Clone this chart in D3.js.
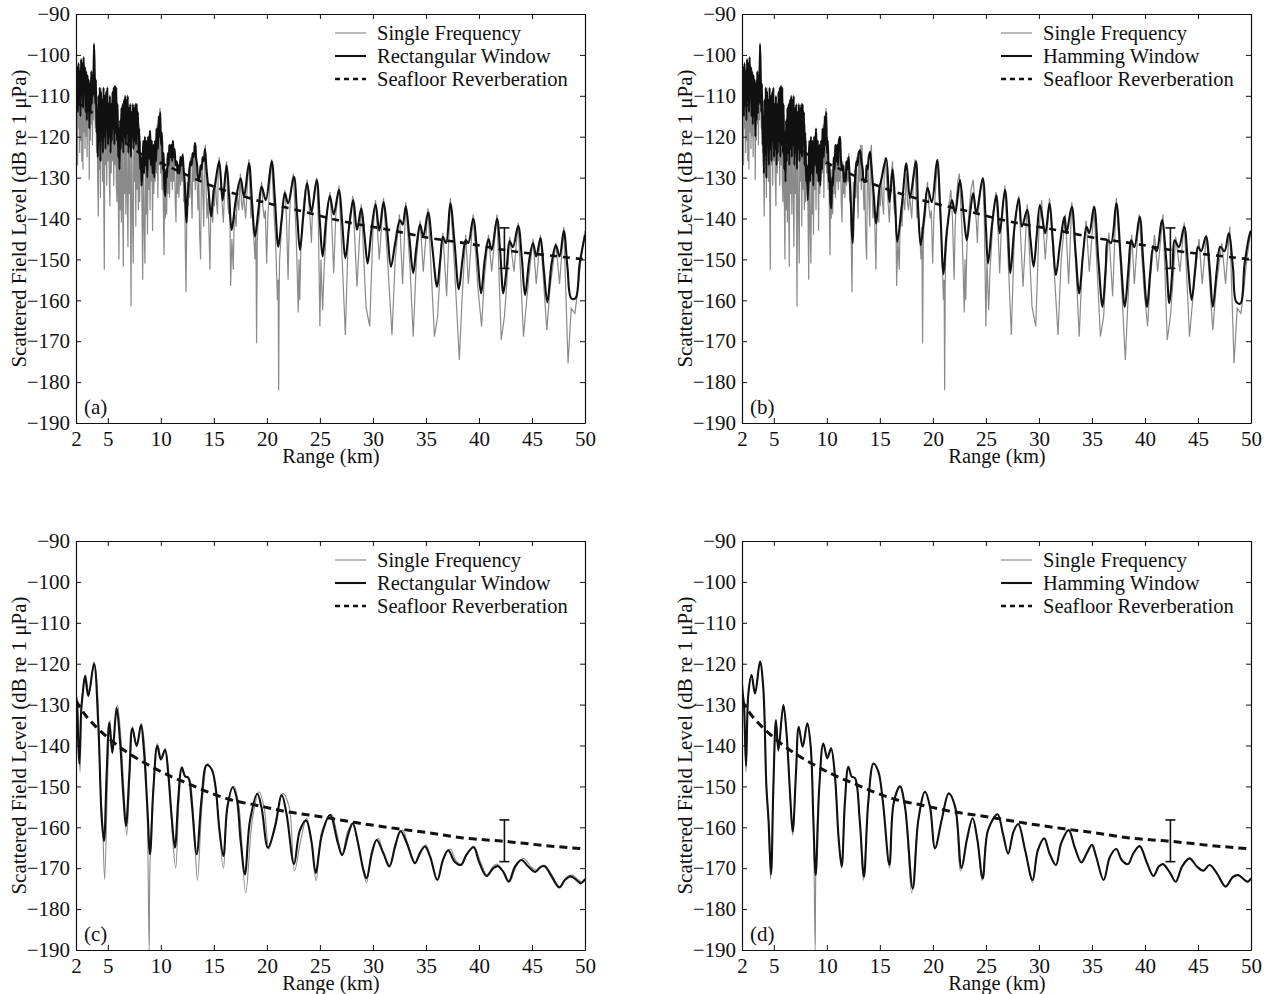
<!DOCTYPE html>
<html>
<head>
<meta charset="utf-8">
<script src="https://cdn.jsdelivr.net/npm/d3@7"></script>
<style>
  body { margin: 0; background: #fff; }
  svg { display: block; }
</style>
</head>
<body>
<div id="chart"></div>
<script>
// Scattered field vs range, four panels (a)-(d)

const width = 1273;
const height = 994;
const plotW = 509, plotH = 409;
const font = "'Liberation Serif', 'DejaVu Serif', serif";

// tick values / labels
const xTicks = [2, 5, 10, 15, 20, 25, 30, 35, 40, 45, 50];
const yTicks = [-90, -100, -110, -120, -130, -140, -150, -160, -170, -180, -190];
const panelNames = ["(a)", "(b)", "(c)", "(d)"];
const legendRect = ["Single Frequency", "Rectangular Window", "Seafloor Reverberation"];
const legendHamm = ["Single Frequency", "Hamming Window", "Seafloor Reverberation"];

// top row: single frequency (grey spikes), same in (a) and (b)
const singleTop = [
  [2.0,-110],[2.05,-122],[2.1,-104],[2.15,-127],[2.2,-105],[2.25,-118],[2.3,-103],[2.35,-124],[2.4,-104],[2.45,-121],
  [2.5,-102],[2.55,-126],[2.6,-104],[2.65,-128],[2.7,-101],[2.75,-119],[2.8,-104],[2.85,-123],[2.9,-103],[2.95,-120],
  [3.0,-106],[3.05,-125],[3.1,-105],[3.15,-118],[3.2,-107],[3.25,-130.5],[3.3,-108],[3.35,-121],[3.4,-106],[3.45,-117],
  [3.5,-105],[3.55,-122],[3.6,-104],[3.65,-116],[3.7,-97],[3.76,-108],[3.82,-118],[3.88,-110],[3.94,-124],[4.0,-118],
  [4.05,-131],[4.1,-139.5],[4.15,-112],[4.2,-128],[4.25,-110],[4.3,-135],[4.35,-108],[4.4,-126],[4.45,-111],[4.5,-131],
  [4.55,-110],[4.6,-129],[4.67,-152.5],[4.72,-112],[4.78,-127],[4.84,-110],[4.9,-132],[4.96,-109],[5.02,-126],[5.08,-113],
  [5.14,-130],[5.2,-137],[5.26,-112],[5.32,-129],[5.38,-113],[5.44,-126],[5.5,-110],[5.56,-132],[5.62,-109],[5.68,-127],
  [5.74,-108],[5.8,-131],[5.86,-136],[5.92,-113],[5.98,-133],[6.05,-150],[6.1,-119],[6.16,-138],[6.22,-117],[6.28,-141],
  [6.34,-115],[6.4,-135],[6.46,-151.8],[6.52,-116],[6.58,-134],[6.64,-113],[6.7,-139],[6.76,-112],[6.82,-131],[6.9,-147],
  [6.96,-115],[7.02,-134],[7.08,-114],[7.14,-141],[7.19,-161.5],[7.25,-117],[7.32,-137],[7.4,-151],[7.46,-115],[7.52,-131],
  [7.58,-114],[7.64,-142],[7.7,-112],[7.76,-133],[7.82,-114],[7.88,-138],[7.94,-117],[8.0,-136],[8.06,-121],[8.12,-132],
  [8.18,-128],[8.24,-142],[8.29,-155],[8.35,-124],[8.42,-141],[8.5,-151],[8.56,-122],[8.62,-139],[8.68,-121],[8.74,-144],
  [8.8,-120],[8.86,-133],[8.92,-119],[8.98,-138],[9.04,-119],[9.1,-131],[9.16,-121],[9.22,-143],[9.28,-122],[9.34,-134],
  [9.4,-121],[9.46,-131],[9.52,-118],[9.6,-129],[9.66,-117],[9.72,-135],[9.8,-115],[9.86,-127],[9.92,-113],[9.98,-129],
  [10.05,-120],[10.12,-133],[10.18,-126],[10.24,-138],[10.3,-149],[10.36,-131],[10.42,-140],[10.48,-128],[10.55,-139],[10.62,-125],
  [10.68,-134],[10.75,-122],[10.82,-135],[10.9,-123],[10.96,-131],[11.02,-122],[11.08,-133],[11.14,-121],[11.2,-131],[11.28,-123],
  [11.36,-136],[11.43,-141],[11.5,-126],[11.56,-134],[11.62,-127],[11.7,-135],[11.78,-126],[11.86,-132],[11.94,-125],[12.0,-131],
  [12.08,-124],[12.16,-136],[12.24,-130],[12.3,-145],[12.37,-158],[12.44,-142],[12.5,-131],[12.58,-137],[12.65,-128],[12.72,-135],
  [12.8,-125],[12.88,-134],[12.95,-140],[13.02,-124],[13.1,-131],[13.18,-122],[13.25,-133],[13.32,-122],[13.4,-129],[13.5,-138],
  [13.58,-130],[13.66,-144],[13.75,-150],[13.82,-131],[13.9,-127],[13.98,-136],[14.05,-142],[14.12,-124],[14.2,-122],[14.28,-134],
  [14.35,-140],[14.45,-135],[14.55,-144],[14.63,-152.5],[14.7,-140],[14.8,-138],[14.9,-141],[14.95,-133],[15.05,-137],[15.15,-130],
  [15.25,-136],[15.35,-139],[15.42,-128],[15.5,-125],[15.7,-133],[15.9,-141],[16.05,-130],[16.2,-126],[16.3,-136],[16.4,-139],
  [16.5,-134],[16.58,-156.5],[16.7,-145],[16.83,-152.5],[16.92,-140],[17.0,-139],[17.1,-142],[17.2,-134],[17.35,-138],[17.5,-129],
  [17.6,-136],[17.7,-138],[17.8,-134],[17.9,-137],[18.0,-140],[18.15,-132],[18.31,-125.5],[18.42,-134],[18.5,-140],[18.6,-136],
  [18.7,-143],[18.8,-146],[18.88,-150],[18.96,-142],[19.03,-170.5],[19.1,-145],[19.15,-142],[19.3,-139],[19.4,-134],[19.5,-131],
  [19.62,-137],[19.75,-140],[19.85,-138],[19.98,-151],[20.1,-139],[20.2,-135],[20.3,-131],[20.45,-125.5],[20.58,-133],[20.7,-140],
  [20.8,-144],[20.9,-152],[21.0,-160],[21.06,-155],[21.11,-182],[21.16,-158],[21.2,-150],[21.3,-146],[21.4,-141],[21.55,-136],
  [21.7,-133],[21.85,-140],[22.0,-155],[22.1,-142],[22.2,-136],[22.35,-131],[22.5,-129],[22.62,-136],[22.75,-143],[22.85,-152],
  [22.96,-163],[23.03,-150],[23.1,-160],[23.2,-148],[23.3,-142],[23.45,-137],[23.6,-133],[23.8,-130.5],[23.95,-136],[24.1,-141],
  [24.2,-146],[24.3,-138],[24.5,-133],[24.7,-130],[24.85,-140],[25.0,-166.4],[25.1,-150],[25.26,-162.4],[25.4,-152],[25.5,-148],
  [25.7,-138],[25.95,-133.5],[26.1,-140],[26.3,-153.4],[26.5,-139],[26.8,-132],[27.1,-150],[27.4,-168.5],[27.7,-142],[28.1,-134.5],
  [28.5,-156.7],[28.9,-136.5],[29.35,-161.6],[29.7,-166.4],[30.0,-143],[30.25,-135.5],[30.6,-150],[31.0,-135],[31.4,-151],[31.8,-168.5],
  [32.1,-150],[32.5,-139],[32.8,-156],[33.1,-136],[33.5,-152],[33.8,-168.9],[34.1,-150],[34.45,-140.5],[34.75,-153],[35.2,-137.5],
  [35.5,-153],[35.8,-168.9],[36.1,-164],[36.4,-150],[36.6,-143.5],[36.95,-159],[37.3,-135],[37.7,-152],[38.15,-174.6],[38.4,-160],
  [38.75,-144],[39.0,-156],[39.45,-139],[39.9,-157],[40.25,-166.4],[40.5,-155],[40.9,-144],[41.2,-153],[41.7,-139],[42.1,-169.7],
  [42.4,-164],[42.65,-155],[42.9,-144.5],[43.3,-153],[43.7,-141],[44.2,-168.9],[44.5,-160],[44.8,-152],[45.1,-145],[45.4,-156],
  [45.8,-144],[46.4,-167.3],[46.7,-157],[47.25,-146],[47.6,-156],[48.0,-142],[48.4,-175.4],[48.7,-162],[49.05,-163.2],[49.3,-158],
  [49.6,-150],[50,-143]
];

// (a) rectangular window
const rectTop = [
  [2.0,-106],[2.06,-112],[2.12,-103],[2.18,-114],[2.24,-102],[2.3,-111],[2.36,-104],[2.42,-115],[2.48,-101],[2.54,-110],
  [2.6,-102],[2.66,-113],[2.72,-100.5],[2.78,-109],[2.84,-103],[2.9,-114],[2.96,-104],[3.02,-116],[3.08,-105],[3.14,-113],
  [3.2,-106],[3.26,-118],[3.32,-107],[3.38,-114],[3.44,-104],[3.5,-112],[3.56,-105],[3.62,-110],[3.7,-97.5],[3.76,-104],
  [3.82,-112],[3.88,-106],[3.94,-119],[4.0,-114],[4.06,-125],[4.12,-110],[4.18,-121],[4.24,-108],[4.3,-126],[4.36,-109],
  [4.42,-119],[4.48,-111],[4.54,-124],[4.6,-108],[4.66,-120],[4.72,-110],[4.78,-123],[4.84,-109],[4.9,-118],[4.96,-108],
  [5.02,-122],[5.08,-112],[5.14,-120],[5.2,-110],[5.26,-124],[5.32,-112],[5.38,-121],[5.44,-109],[5.5,-118],[5.56,-108],
  [5.62,-122],[5.68,-107.5],[5.74,-119],[5.8,-108],[5.86,-121],[5.92,-112],[5.98,-125],[6.04,-118],[6.1,-128],[6.16,-116],
  [6.22,-123],[6.28,-113],[6.34,-121],[6.4,-112],[6.46,-124],[6.52,-111],[6.58,-120],[6.64,-110],[6.7,-122],[6.76,-111],
  [6.82,-119],[6.88,-110],[6.94,-124],[7.0,-113],[7.06,-121],[7.12,-112],[7.18,-125],[7.24,-114],[7.3,-120],[7.36,-112],
  [7.42,-123],[7.48,-113],[7.54,-121],[7.6,-112],[7.66,-122],[7.72,-112],[7.78,-118],[7.84,-114],[7.9,-124],[7.96,-118],
  [8.05,-128],[8.12,-125],[8.2,-132],[8.28,-126],[8.35,-121],[8.42,-129],[8.5,-120],[8.58,-127],[8.65,-121],[8.72,-130],
  [8.8,-120],[8.88,-125],[8.98,-118.5],[9.06,-127],[9.14,-121],[9.22,-129],[9.3,-122],[9.38,-130],[9.46,-121],[9.55,-126],
  [9.63,-118],[9.72,-123],[9.8,-115],[9.88,-120],[9.94,-114],[10.02,-122],[10.1,-119],[10.18,-128],[10.26,-124],[10.34,-133],
  [10.42,-134.5],[10.5,-128],[10.58,-130],[10.66,-124],[10.74,-127],[10.82,-122],[10.9,-125],[10.98,-122],[11.06,-126],[11.14,-121],
  [11.22,-125],[11.3,-123],[11.4,-127],[11.5,-126],[11.6,-129],[11.68,-127],[11.76,-129],[11.85,-125],[11.95,-127],[12.05,-124.5],
  [12.15,-128],[12.25,-131],[12.35,-138],[12.43,-141],[12.52,-135],[12.6,-132],[12.7,-128],[12.8,-126],[12.9,-127],[13.0,-124],
  [13.1,-125],[13.22,-121.5],[13.32,-125],[13.42,-127],[13.52,-130],[13.63,-130.5],[13.75,-127],[13.85,-128],[13.95,-125],[14.05,-126],
  [14.16,-123],[14.28,-127],[14.38,-130],[14.5,-133],[14.62,-137],[14.75,-139.5],[14.88,-136],[15.0,-133],[15.1,-132],[15.5,-126],
  [15.83,-135.5],[16.2,-127],[16.45,-135],[16.68,-142.8],[17.1,-135],[17.53,-130.2],[17.84,-134.7],[18.31,-126.5],[18.6,-136],[18.88,-144.4],
  [19.2,-138],[19.5,-132.2],[19.9,-135.5],[20.45,-126],[20.75,-135],[21.08,-146.9],[21.4,-140],[21.7,-133.8],[22.0,-136.3],[22.55,-129.8],
  [22.85,-139],[23.12,-147.7],[23.45,-139],[23.8,-131.4],[24.2,-138.3],[24.7,-130.6],[25.0,-141],[25.26,-149.3],[25.6,-140],[25.95,-134.5],
  [26.3,-139],[26.8,-133],[27.1,-141],[27.4,-149.7],[27.8,-141],[28.15,-135.5],[28.5,-142.8],[28.9,-137.5],[29.2,-144],[29.5,-151],
  [29.85,-143],[30.25,-136.5],[30.6,-143],[31.0,-136],[31.35,-143],[31.7,-151.8],[32.1,-146],[32.55,-140.4],[32.8,-141.5],[33.1,-137],
  [33.45,-145],[33.8,-153.4],[34.1,-147],[34.45,-141.5],[34.75,-144.4],[35.2,-138.5],[35.6,-147],[36.05,-156.7],[36.35,-150],[36.6,-144.5],
  [36.9,-146],[37.3,-136.3],[37.7,-146],[38.1,-157.3],[38.45,-150],[38.75,-145.3],[39.0,-146],[39.45,-140],[39.85,-149],[40.2,-158.3],
  [40.55,-150],[40.9,-145],[41.2,-147.7],[41.7,-140],[42.0,-148],[42.3,-158.3],[42.65,-151],[42.9,-145.5],[43.2,-147],[43.7,-141.8],
  [44.05,-150],[44.35,-158.7],[44.75,-150],[45.1,-146],[45.4,-149.3],[45.8,-144.8],[46.1,-152],[46.45,-160.5],[46.85,-151],[47.25,-146.5],
  [47.6,-149.3],[48.0,-143],[48.35,-152],[48.7,-159.5],[49.1,-159.5],[49.5,-151],[50,-144]
];

// (b) hamming window
const hammTop = [
  [2.0,-106],[2.06,-113],[2.12,-103],[2.18,-115],[2.24,-102],[2.3,-112],[2.36,-104],[2.42,-116],[2.48,-101],[2.54,-111],
  [2.6,-102],[2.66,-114],[2.72,-100.5],[2.78,-110],[2.84,-103],[2.9,-115],[2.96,-104],[3.02,-117],[3.08,-105],[3.14,-115],
  [3.2,-106],[3.26,-120],[3.32,-107],[3.38,-116],[3.44,-104],[3.5,-114],[3.56,-105],[3.62,-112],[3.7,-97.5],[3.76,-104],
  [3.82,-114],[3.88,-107],[3.94,-122],[4.0,-116],[4.06,-129],[4.12,-111],[4.18,-124],[4.24,-108],[4.3,-130],[4.36,-109],
  [4.42,-122],[4.48,-111],[4.54,-127],[4.6,-108],[4.66,-123],[4.72,-110],[4.78,-126],[4.84,-109],[4.9,-121],[4.96,-108],
  [5.02,-125],[5.08,-112],[5.14,-123],[5.2,-110],[5.26,-127],[5.32,-112],[5.38,-124],[5.44,-109],[5.5,-121],[5.56,-108],
  [5.62,-125],[5.68,-107.5],[5.74,-122],[5.8,-108],[5.86,-124],[5.92,-112],[5.98,-128],[6.04,-119],[6.1,-131],[6.16,-116],
  [6.22,-126],[6.28,-113],[6.34,-124],[6.4,-112],[6.46,-127],[6.52,-111],[6.58,-123],[6.64,-110],[6.7,-125],[6.76,-111],
  [6.82,-122],[6.88,-110],[6.94,-127],[7.0,-113],[7.06,-124],[7.12,-112],[7.18,-128],[7.24,-114],[7.3,-123],[7.36,-112],
  [7.42,-126],[7.48,-113],[7.54,-124],[7.6,-112],[7.66,-125],[7.72,-112],[7.78,-121],[7.84,-114],[7.9,-127],[7.96,-119],
  [8.05,-131],[8.12,-127],[8.2,-135.5],[8.28,-128],[8.35,-121],[8.42,-131],[8.5,-120],[8.58,-129],[8.65,-121],[8.72,-132],
  [8.8,-120],[8.88,-127],[8.98,-118],[9.06,-129],[9.14,-121],[9.22,-131],[9.3,-122],[9.38,-132],[9.46,-121],[9.55,-128],
  [9.63,-118],[9.72,-125],[9.8,-115],[9.88,-122],[9.94,-114],[10.02,-124],[10.1,-121],[10.18,-131],[10.26,-127],[10.34,-136],
  [10.42,-137.5],[10.5,-130],[10.58,-132],[10.66,-125],[10.74,-128],[10.82,-122],[10.9,-126],[10.98,-122],[11.06,-127],[11.14,-121],
  [11.24,-120],[11.32,-125],[11.42,-128],[11.52,-127],[11.62,-131],[11.7,-129],[11.78,-131],[11.86,-126],[11.96,-128],[12.05,-125],
  [12.15,-130],[12.25,-135],[12.35,-143],[12.44,-146],[12.52,-139],[12.6,-134],[12.7,-129],[12.8,-126],[12.9,-127],[13.0,-124],
  [13.13,-123.3],[13.25,-126],[13.38,-128],[13.5,-131],[13.63,-131],[13.75,-127],[13.85,-128],[13.95,-125],[14.07,-123.7],[14.2,-127],
  [14.32,-131],[14.45,-135],[14.55,-139],[14.65,-141.2],[14.78,-138],[14.9,-134],[15.0,-132],[15.1,-131],[15.6,-125.3],[15.9,-136],
  [16.2,-128],[16.45,-137],[16.65,-145.7],[17.1,-136],[17.5,-126.5],[17.84,-135],[18.4,-126],[18.6,-137],[18.85,-146.5],[19.2,-139],
  [19.5,-132.5],[19.9,-136],[20.4,-125.7],[20.7,-138],[21.0,-153.6],[21.3,-143.6],[21.8,-135.5],[22.1,-138.7],[22.55,-130.6],[22.9,-139],
  [23.2,-145.3],[23.5,-139],[23.8,-133.8],[24.1,-138.7],[24.7,-130.2],[25.0,-142],[25.2,-151],[25.6,-141],[26.0,-134.3],[26.3,-143.6],
  [26.8,-133],[27.1,-144],[27.3,-153.4],[27.7,-142],[28.1,-135.1],[28.4,-142],[28.9,-137.9],[29.2,-145],[29.5,-151.8],[29.8,-144],
  [30.1,-136.7],[30.6,-143.6],[31.0,-136.3],[31.3,-145],[31.6,-153.8],[32.0,-146],[32.4,-139.6],[32.6,-143.6],[33.1,-137.1],[33.45,-148],
  [33.8,-158.3],[34.15,-149],[34.5,-142],[34.75,-143.6],[35.2,-137.1],[35.6,-150],[36.0,-161.6],[36.3,-152],[36.5,-145.3],[36.8,-146],
  [37.3,-136.3],[37.7,-149],[38.1,-161.6],[38.45,-152],[38.7,-145.3],[39.0,-147],[39.5,-139.6],[39.85,-151],[40.2,-161.6],[40.5,-153],
  [40.8,-146.9],[41.1,-148],[41.6,-140.4],[42.0,-150],[42.3,-160.7],[42.6,-152],[42.8,-145.3],[43.2,-147],[43.7,-142],[44.05,-151],
  [44.4,-159.9],[44.75,-152],[45.0,-146.9],[45.3,-148],[45.75,-144.4],[46.1,-152],[46.4,-161.6],[46.8,-152],[47.1,-146.9],[47.5,-148],
  [47.9,-143.6],[48.3,-152],[48.6,-160.3],[49.0,-160.8],[49.4,-151],[49.9,-143.6],[50,-143]
];

// top row seafloor reverberation
const seaTop = [
  [2,-111.5],[3.6,-114.3],[5.2,-117.8],[6.5,-121],[8,-124],[10.5,-127],[14.6,-131.8],[19,-135.5],
  [23.4,-138.3],[27,-140.6],[31.6,-142.8],[35.4,-144.8],[38.9,-146.1],[43.2,-148],[46.5,-149],[50,-150]
];
const errTop = [42.4, -142.3, -152.2];

// bottom row: single frequency, same in (c) and (d)
const singleBottom = [
  [2.0,-125],[2.03,-156],[2.07,-128],[2.19,-131],[2.38,-146.5],[2.6,-127.3],[2.9,-122.8],[3.23,-127.3],[3.7,-119.5],[4.0,-125.6],
  [4.3,-150],[4.5,-158.5],[4.7,-172.7],[4.96,-150],[5.2,-133.8],[5.43,-141.5],[5.9,-130.1],[6.2,-137],[6.53,-151.7],[6.78,-162],
  [7.09,-146.8],[7.35,-135.4],[7.72,-140.3],[8.16,-134.6],[8.48,-140.3],[8.73,-158.2],[8.9,-190],[8.97,-170],[9.29,-150],[9.67,-139.5],
  [10.05,-143.1],[10.4,-140.7],[10.77,-147.6],[11.1,-162.3],[11.4,-170],[11.7,-154.1],[12.03,-145.2],[12.34,-147.6],[12.66,-148],[13.1,-158.2],
  [13.45,-173],[13.9,-154.1],[14.4,-144.4],[14.86,-146.4],[15.3,-154.1],[15.9,-170],[16.3,-154.1],[16.9,-150],[17.37,-155],[18.0,-176],
  [18.63,-158.2],[19.26,-151.3],[19.73,-155],[20.2,-165.3],[20.83,-158.2],[21.5,-151.7],[22.1,-155],[22.6,-170.7],[23.2,-163.1],[23.75,-157.8],
  [24.2,-163.1],[24.65,-173],[25.2,-160.7],[26.1,-156.8],[26.6,-161.5],[27.1,-166.6],[27.6,-161.1],[28.05,-159.2],[28.7,-165.6],[29.4,-173.5],
  [29.9,-165.6],[30.5,-162.7],[31.0,-166.4],[31.6,-169.2],[32.1,-163.9],[32.8,-160.7],[33.4,-165.1],[34.0,-168.6],[34.5,-166.4],[35.0,-164.3],
  [35.4,-167.2],[36.1,-172.9],[36.7,-167.2],[37.3,-165.3],[37.8,-168],[38.4,-169],[38.9,-166.4],[39.5,-164.6],[40.2,-168.8],[40.8,-171.9],
  [41.3,-169.6],[41.7,-169],[42.4,-171.3],[42.9,-173.3],[43.5,-169.6],[44.2,-167.6],[44.9,-169.6],[45.5,-170.6],[46.1,-169.2],[46.8,-171.3],
  [47.6,-174.5],[48.3,-172.1],[48.8,-171.7],[49.4,-172.9],[49.7,-173.3],[50.0,-172.5]
];

// (c) rectangular window
const rectBottom = [
  [2.0,-128],[2.1,-131],[2.31,-144.5],[2.5,-131],[2.63,-127.5],[2.85,-123],[3.16,-127.9],[3.7,-120],[4.1,-134.8],[4.42,-157.6],
  [4.64,-163.4],[4.89,-147],[5.14,-134.4],[5.43,-141.8],[5.83,-130.8],[6.15,-138.9],[6.46,-152],[6.71,-159.7],[7.03,-147],[7.31,-135.8],
  [7.72,-140.1],[8.13,-135],[8.41,-141.4],[8.73,-155.2],[8.98,-166.6],[9.29,-151],[9.67,-140.1],[10.0,-143.4],[10.4,-141.1],[10.7,-147],
  [11.0,-156.8],[11.33,-165],[11.65,-152.8],[11.96,-145.4],[12.28,-147.5],[12.6,-147.9],[12.9,-153.6],[13.38,-166.6],[13.85,-152.8],[14.32,-144.8],
  [14.79,-145.8],[15.17,-150.3],[15.5,-160],[15.9,-167],[16.27,-155.2],[16.77,-150.2],[17.15,-152.8],[17.53,-163.4],[17.93,-171.5],[18.4,-158.5],
  [19.1,-151.8],[19.5,-155.2],[20.1,-165],[20.76,-160],[21.4,-152.1],[21.86,-156.8],[22.56,-169],[23.1,-160.9],[23.7,-158.3],[24.2,-163.4],
  [24.6,-171.1],[25.2,-161.7],[25.95,-157],[26.7,-163.9],[27.1,-166.8],[27.7,-161.5],[28.1,-159],[28.6,-163.9],[29.1,-170.4],[29.4,-172.5],
  [29.9,-166.4],[30.35,-163.1],[31.0,-166.4],[31.55,-169.6],[32.1,-164.7],[32.6,-160.9],[33.2,-163.9],[33.97,-168.8],[34.4,-166.4],[34.9,-164.7],
  [35.4,-167.2],[36.07,-172.9],[36.6,-168],[37.1,-165.6],[37.7,-168.4],[38.3,-169.2],[38.8,-166.8],[39.5,-164.9],[40.0,-168.4],[40.7,-171.9],
  [41.35,-170],[41.8,-169.5],[42.3,-170.9],[42.8,-173.3],[43.4,-169.6],[44.0,-168],[44.65,-169.6],[45.3,-170.9],[45.75,-169.8],[46.2,-169.5],
  [46.85,-172],[47.57,-174.7],[48.1,-172.9],[48.65,-172],[49.2,-172.9],[49.6,-173.7],[50.0,-172.7]
];

// (d) hamming window
const hammBottom = [
  [2.0,-125],[2.1,-128],[2.19,-130],[2.38,-145],[2.6,-127.3],[2.9,-122.8],[3.23,-127.3],[3.7,-119.5],[4.0,-125.6],[4.3,-150],
  [4.5,-158.2],[4.74,-171.5],[4.96,-150],[5.2,-133.8],[5.43,-141.1],[5.9,-130.1],[6.2,-137],[6.53,-151.7],[6.78,-161.1],[7.09,-146.8],
  [7.35,-135.4],[7.72,-140.3],[8.16,-134.6],[8.48,-140.3],[8.73,-158.2],[8.95,-171.7],[9.29,-150],[9.67,-139.5],[10.05,-143.1],[10.4,-140.7],
  [10.77,-147.6],[11.1,-162.3],[11.4,-169.6],[11.7,-154.1],[12.03,-145.2],[12.34,-147.6],[12.66,-148],[13.1,-158.2],[13.5,-172.1],[13.9,-154.1],
  [14.4,-144.4],[14.86,-146.4],[15.3,-154.1],[15.9,-169.2],[16.3,-154.1],[16.9,-150],[17.37,-155],[18.1,-175],[18.63,-158.2],[19.26,-151.3],
  [19.73,-155],[20.2,-165.1],[20.83,-158.2],[21.5,-151.7],[22.1,-155],[22.7,-170],[23.2,-163.1],[23.75,-157.8],[24.2,-163.1],[24.7,-172.5],
  [25.2,-160.7],[26.1,-156.8],[26.6,-161.5],[27.1,-166.4],[27.6,-161.1],[28.05,-159.2],[28.7,-165.6],[29.4,-172.9],[29.9,-165.6],[30.5,-162.7],
  [31.0,-166.4],[31.6,-169.2],[32.1,-163.9],[32.8,-160.7],[33.4,-165.1],[34.0,-168.6],[34.5,-166.4],[35.0,-164.3],[35.4,-167.2],[36.1,-172.9],
  [36.7,-167.2],[37.3,-165.3],[37.8,-168],[38.4,-169],[38.9,-166.4],[39.5,-164.6],[40.2,-168.8],[40.8,-171.9],[41.3,-169.6],[41.7,-169],
  [42.4,-171.3],[42.9,-173.3],[43.5,-169.6],[44.2,-167.6],[44.9,-169.6],[45.5,-170.6],[46.1,-169.2],[46.8,-171.3],[47.6,-174.5],[48.3,-172.1],
  [48.8,-171.7],[49.4,-172.9],[49.7,-173.3],[50.0,-172.5]
];

// bottom row seafloor reverberation
const seaBottom = [
  [2,-129],[2.4,-130.8],[3.8,-135.2],[5.2,-138.5],[6.9,-141.8],[8.7,-144.6],[10.9,-147.5],[12.75,-149.5],[14.6,-151.5],
  [16.5,-153.2],[19,-154.6],[21.5,-156],[25.3,-157.5],[28.5,-158.9],[32.2,-160.3],[35.4,-161.4],[38.5,-162.6],[42.3,-163.4],[46,-164.4],[50,-165.3]
];
const errBottom = [42.4, -158.2, -168.4];

const panels = [
  {name: panelNames[0], left: 76,  top: 14,  single: singleTop,    win: rectTop,    sea: seaTop,    err: errTop,    legend: legendRect, bottomRow: false},
  {name: panelNames[1], left: 742, top: 14,  single: singleTop,    win: hammTop,    sea: seaTop,    err: errTop,    legend: legendHamm, bottomRow: false},
  {name: panelNames[2], left: 76,  top: 541, single: singleBottom, win: rectBottom, sea: seaBottom, err: errBottom, legend: legendRect, bottomRow: true},
  {name: panelNames[3], left: 742, top: 541, single: singleBottom, win: hammBottom, sea: seaBottom, err: errBottom, legend: legendHamm, bottomRow: true}
];

const svg = d3.select("#chart").append("svg")
  .attr("width", width)
  .attr("height", height)
  .style("background", "#fff");

const x = d3.scaleLinear().domain([2, 50]).range([0, plotW]);
const y = d3.scaleLinear().domain([-190, -90]).range([plotH, 0]);

panels.forEach((p, i) => {
  const g = svg.append("g").attr("transform", `translate(${p.left},${p.top})`);

  g.append("clipPath").attr("id", "clip" + i)
    .append("rect").attr("width", plotW).attr("height", plotH);

  const plot = g.append("g").attr("clip-path", `url(#clip${i})`);

  const smooth = d3.line().x(d => x(d[0])).y(d => y(d[1])).curve(d3.curveCatmullRom.alpha(0.5));
  const straight = d3.line().x(d => x(d[0])).y(d => y(d[1]));

  plot.append("path").datum(p.single)
    .attr("fill", "none").attr("stroke", "#8a8a8a").attr("stroke-width", p.bottomRow ? 1.1 : 1.2)
    .attr("d", p.bottomRow ? smooth : straight);

  plot.append("path").datum(p.win)
    .attr("fill", "none").attr("stroke", "#111").attr("stroke-width", 2.1)
    .attr("stroke-linejoin", "round")
    .attr("d", smooth);

  const seaLine = d3.line().x(d => x(d[0])).y(d => y(d[1])).curve(d3.curveMonotoneX);
  plot.append("path").datum(p.sea)
    .attr("fill", "none").attr("stroke", "#111")
    .attr("stroke-width", p.bottomRow ? 3 : 2.6)
    .attr("stroke-dasharray", p.bottomRow ? "8,5" : "7,6")
    .attr("d", seaLine);

  // error bar
  const ex = x(p.err[0]);
  const eb = plot.append("g").attr("stroke", "#111").attr("stroke-width", 1.6);
  eb.append("line").attr("x1", ex).attr("x2", ex).attr("y1", y(p.err[1])).attr("y2", y(p.err[2]));
  eb.append("line").attr("x1", ex - 5).attr("x2", ex + 5).attr("y1", y(p.err[1])).attr("y2", y(p.err[1]));
  eb.append("line").attr("x1", ex - 5).attr("x2", ex + 5).attr("y1", y(p.err[2])).attr("y2", y(p.err[2]));

  // axes, ticks pointing inward on all four sides
  const styleAxis = sel => {
    sel.attr("font-family", font).attr("font-size", "21px");
    sel.selectAll("path.domain").attr("stroke", "#111").attr("stroke-width", 1.2);
    sel.selectAll(".tick line").attr("stroke", "#111");
    sel.selectAll(".tick text").attr("fill", "#111");
  };

  g.append("g").attr("transform", `translate(0,${plotH})`)
    .call(d3.axisBottom(x).tickValues(xTicks).tickSizeInner(-5).tickSizeOuter(0).tickPadding(8))
    .call(styleAxis);
  g.append("g")
    .call(d3.axisTop(x).tickValues(xTicks).tickSizeInner(-5).tickSizeOuter(0).tickFormat(""))
    .call(styleAxis);
  g.append("g")
    .call(d3.axisLeft(y).tickValues(yTicks).tickSizeInner(-5).tickSizeOuter(0).tickPadding(6))
    .call(styleAxis);
  g.append("g").attr("transform", `translate(${plotW},0)`)
    .call(d3.axisRight(y).tickValues(yTicks).tickSizeInner(-5).tickSizeOuter(0).tickFormat(""))
    .call(styleAxis);

  // axis titles
  g.append("text")
    .attr("transform", `translate(-57,${plotH / 2}) rotate(-90)`)
    .attr("text-anchor", "middle").attr("dominant-baseline", "central")
    .attr("font-family", font).attr("font-size", "21px").attr("fill", "#111")
    .text("Scattered Field Level (dB re 1 μPa)");

  g.append("text")
    .attr("x", 255).attr("y", plotH + 40)
    .attr("text-anchor", "middle")
    .attr("font-family", font).attr("font-size", "20.5px").attr("fill", "#111")
    .text("Range (km)");

  g.append("text")
    .attr("x", 8).attr("y", plotH - 9)
    .attr("font-family", font).attr("font-size", "21px").attr("fill", "#111")
    .text(p.name);

  // legend
  const lg = g.append("g").attr("transform", "translate(259,0)");
  const legendStyles = [
    {stroke: "#8a8a8a", width: 1.2, dash: null},
    {stroke: "#111", width: 2.1, dash: null},
    {stroke: "#111", width: 2.6, dash: "5,4"}
  ];
  p.legend.forEach((t, k) => {
    const yy = 19 + k * 23;
    lg.append("line")
      .attr("x1", 0).attr("x2", 31).attr("y1", yy).attr("y2", yy)
      .attr("stroke", legendStyles[k].stroke)
      .attr("stroke-width", legendStyles[k].width)
      .attr("stroke-dasharray", legendStyles[k].dash);
    lg.append("text")
      .attr("x", 42).attr("y", yy + 7)
      .attr("font-family", font).attr("font-size", "20.5px").attr("fill", "#111")
      .text(t);
  });
});
</script>
</body>
</html>
